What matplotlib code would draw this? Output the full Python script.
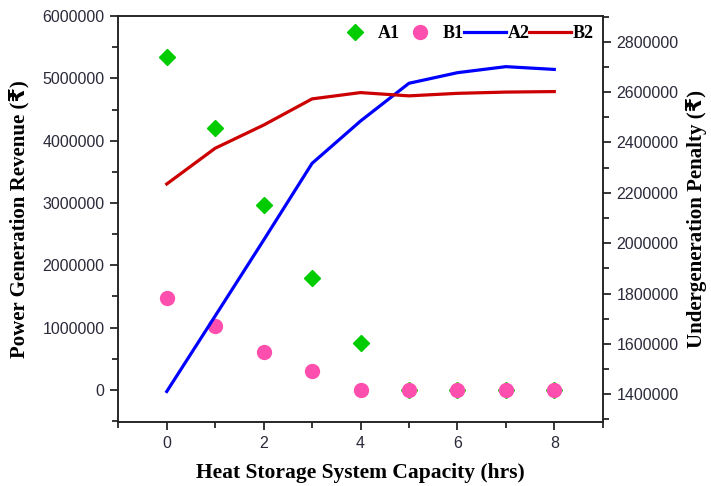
import numpy as np
import matplotlib
matplotlib.use('Agg')
import matplotlib.pyplot as plt
from matplotlib.ticker import MultipleLocator

# capacity in hours
capacity = [0, 1, 2, 3, 4, 5, 6, 7, 8]

# left axis: power generation revenue
a1 = [5340000, 4200000, 2960000, 1800000, 760000, 0, 0, 0, 0]
b1 = [1470000, 1030000, 610000, 300000, 0, 0, 0, 0, 0]

# right axis: undergeneration penalty
a2 = [1411000, 1711000, 2012000, 2317000, 2485000, 2635000, 2677000, 2701000, 2690000]
b2 = [2235000, 2377000, 2469000, 2573000, 2598000, 2585000, 2595000, 2600000, 2602000]

serif = ['Liberation Serif', 'DejaVu Sans']
plt.rcParams['font.family'] = ['Liberation Sans', 'DejaVu Sans']
tick_col = '#2a2a3a'

fig = plt.figure(figsize=(7.11, 4.86), dpi=100)
ax = fig.add_axes([0.1664, 0.1323, 0.6813, 0.8347])
ax2 = ax.twinx()

h1, = ax.plot(capacity, a1, linestyle='none', marker='D', ms=8.5,
              color='#00cc00', mec='#00cc00', label='A1')
h2, = ax.plot(capacity, b1, linestyle='none', marker='o', ms=10,
              color='#ff4fae', mec='#ff4fae', label='B1')
h3, = ax2.plot(capacity, a2, color='#0000ff', lw=2.3, label='A2')
h4, = ax2.plot(capacity, b2, color='#cc0000', lw=2.3, label='B2')

ax.set_xlim(-1, 9)
ax.set_ylim(-510000, 6000000)
ax2.set_ylim(1291000, 2902000)

ax.xaxis.set_major_locator(MultipleLocator(2))
ax.xaxis.set_minor_locator(MultipleLocator(1))
ax.yaxis.set_major_locator(MultipleLocator(1000000))
ax.yaxis.set_minor_locator(MultipleLocator(500000))
ax2.yaxis.set_major_locator(MultipleLocator(200000))
ax2.yaxis.set_minor_locator(MultipleLocator(100000))

for a in (ax, ax2):
    a.tick_params(which='major', direction='out', length=6, width=1.1, pad=4,
                  labelsize=11.5, labelcolor=tick_col, top=False)
    a.tick_params(which='minor', direction='out', length=4, width=1.1, top=False)
    for s in a.spines.values():
        s.set_linewidth(1.1)
        s.set_color('#222222')
    a.ticklabel_format(style='plain', useOffset=False, axis='y')
ax.tick_params(which='both', right=False)
ax2.tick_params(which='both', left=False, bottom=False)

ax.set_xlabel('Heat Storage System Capacity (hrs)', family=serif,
              fontweight='bold', fontsize=15.5, labelpad=9)
ax.set_ylabel('Power Generation Revenue (₹)', family=serif,
              fontweight='bold', fontsize=15, labelpad=9)
ax2.set_ylabel('Undergeneration Penalty (₹)', family=serif,
               fontweight='bold', fontsize=15, labelpad=5)

leg = ax2.legend(handles=[h1, h2, h3, h4], loc='upper right', ncol=4,
                 frameon=False, prop={'family': serif, 'weight': 'bold', 'size': 13},
                 handlelength=2.3, handletextpad=0.1, columnspacing=0.0,
                 borderaxespad=0.1, bbox_to_anchor=(1.0, 1.0))

fig.savefig('out.png', dpi=100)
